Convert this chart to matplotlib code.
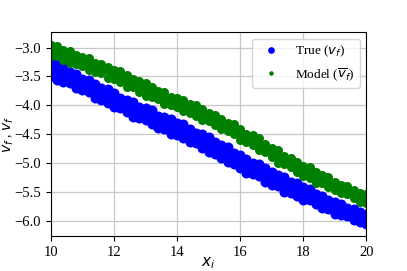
import matplotlib
matplotlib.use('Agg')
import matplotlib.pyplot as plt
from matplotlib.lines import Line2D
import numpy as np

plt.rcParams['font.family'] = ['Liberation Serif', 'DejaVu Serif']
plt.rcParams['mathtext.fontset'] = 'dejavusans'

# x positions of the sampled columns
x_i = [10.0, 10.2, 10.4, 10.6, 10.8, 11.0, 11.2, 11.4, 11.6, 11.8,
       12.0, 12.2, 12.4, 12.6, 12.8, 13.0, 13.2, 13.4, 13.6, 13.8,
       14.0, 14.2, 14.4, 14.6, 14.8, 15.0, 15.2, 15.4, 15.6, 15.8,
       16.0, 16.2, 16.4, 16.6, 16.8, 17.0, 17.2, 17.4, 17.6, 17.8,
       18.0, 18.2, 18.4, 18.6, 18.8, 19.0, 19.2, 19.4, 19.6, 19.8, 20.0]

# true v_f (upper / middle / lower part)
true_upper = [-3.26, -3.27, -3.34, -3.43, -3.46, -3.54, -3.56, -3.63, -3.70, -3.71,
              -3.79, -3.87, -3.90, -3.94, -4.02, -4.05, -4.08, -4.18, -4.20, -4.24,
              -4.31, -4.33, -4.40, -4.48, -4.50, -4.55, -4.64, -4.69, -4.72, -4.82,
              -4.86, -4.93, -5.00, -5.02, -5.08, -5.16, -5.21, -5.24, -5.33, -5.35,
              -5.42, -5.44, -5.53, -5.56, -5.64, -5.67, -5.70, -5.77, -5.80, -5.85, -5.88]
true_middle = [-3.40, -3.41, -3.48, -3.55, -3.57, -3.60, -3.70, -3.74, -3.78, -3.87,
               -3.91, -3.95, -4.04, -4.05, -4.12, -4.18, -4.21, -4.25, -4.33, -4.36,
               -4.38, -4.47, -4.50, -4.57, -4.64, -4.66, -4.74, -4.81, -4.85, -4.89,
               -5.00, -5.04, -5.08, -5.16, -5.18, -5.26, -5.34, -5.35, -5.40, -5.47,
               -5.53, -5.56, -5.64, -5.64, -5.71, -5.75, -5.81, -5.83, -5.89, -5.96, -5.97]
true_lower = [-3.49, -3.56, -3.59, -3.62, -3.70, -3.74, -3.77, -3.87, -3.90, -3.96,
              -4.03, -4.05, -4.12, -4.20, -4.22, -4.25, -4.33, -4.39, -4.40, -4.49,
              -4.52, -4.56, -4.63, -4.65, -4.73, -4.81, -4.84, -4.91, -4.98, -5.01,
              -5.09, -5.17, -5.19, -5.23, -5.32, -5.37, -5.40, -5.49, -5.51, -5.57,
              -5.64, -5.64, -5.71, -5.77, -5.80, -5.88, -5.89, -5.91, -5.99, -6.02, -6.06]

# model v_f
model_upper = [-2.95, -2.98, -3.04, -3.06, -3.13, -3.17, -3.18, -3.27, -3.28, -3.33,
               -3.39, -3.41, -3.48, -3.55, -3.58, -3.62, -3.69, -3.75, -3.77, -3.85,
               -3.88, -3.91, -3.98, -3.99, -4.07, -4.14, -4.16, -4.23, -4.30, -4.33,
               -4.41, -4.49, -4.52, -4.57, -4.67, -4.73, -4.77, -4.87, -4.91, -4.98,
               -5.05, -5.07, -5.15, -5.21, -5.24, -5.33, -5.37, -5.40, -5.47, -5.51, -5.54]
model_middle = [-3.02, -3.08, -3.09, -3.17, -3.20, -3.27, -3.27, -3.33, -3.38, -3.39,
                -3.45, -3.53, -3.56, -3.60, -3.68, -3.72, -3.75, -3.85, -3.87, -3.91,
                -3.97, -3.99, -4.06, -4.12, -4.14, -4.18, -4.27, -4.31, -4.34, -4.44,
                -4.48, -4.55, -4.64, -4.66, -4.74, -4.82, -4.87, -4.92, -5.02, -5.05,
                -5.12, -5.15, -5.24, -5.28, -5.36, -5.39, -5.42, -5.50, -5.52, -5.58, -5.60]
model_lower = [-3.14, -3.15, -3.21, -3.27, -3.28, -3.31, -3.39, -3.42, -3.44, -3.52,
               -3.55, -3.59, -3.68, -3.68, -3.76, -3.83, -3.85, -3.89, -3.98, -4.00,
               -4.02, -4.10, -4.13, -4.19, -4.26, -4.27, -4.34, -4.41, -4.45, -4.49,
               -4.60, -4.64, -4.69, -4.78, -4.81, -4.90, -4.99, -5.01, -5.07, -5.15,
               -5.22, -5.25, -5.34, -5.35, -5.42, -5.47, -5.52, -5.54, -5.60, -5.67, -5.68]

fig, ax = plt.subplots(figsize=(4.07, 2.71), dpi=100)
fig.subplots_adjust(left=0.125, right=0.9, top=0.882, bottom=0.129)

xs = np.concatenate([x_i, x_i, x_i])
ax.plot(xs, np.concatenate([true_upper, true_middle, true_lower]),
        'bo', markersize=7.2, markeredgewidth=0)
ax.plot(xs, np.concatenate([model_upper, model_middle, model_lower]),
        'go', markersize=6.5, markeredgewidth=0)

ax.set_xlim(10, 20)
ax.set_ylim(-6.26, -2.73)
ax.set_xticks([10, 12, 14, 16, 18, 20])
ax.set_yticks([-6.0, -5.5, -5.0, -4.5, -4.0, -3.5, -3.0])
ax.tick_params(labelsize=10.5)
ax.grid(True, color='#c8c8c8', linewidth=0.9)

ax.set_xlabel(r'$x_i$', fontsize=11, labelpad=-2.5)
ax.set_ylabel(r'$v_f$ , $\overline{v}_f$', fontsize=10, labelpad=-1.5)

handles = [Line2D([], [], color='b', marker='o', ls='none', markersize=3.8),
           Line2D([], [], color='g', marker='.', ls='none', markersize=4.5)]
ax.legend(handles, [r'True ($v_f$)', r'Model ($\overline{v}_f$)'],
          loc='upper right', fontsize=9.5)

fig.savefig('out.png', dpi=100)
